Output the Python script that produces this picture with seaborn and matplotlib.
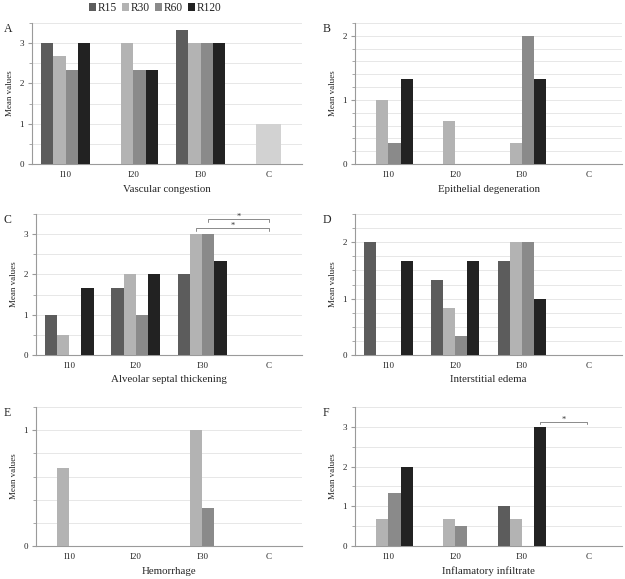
import pandas as pd
import numpy as np
import matplotlib
matplotlib.use('Agg')
import matplotlib.pyplot as plt
from matplotlib.patches import Patch
from matplotlib.ticker import MultipleLocator
import seaborn as sns

groups = ['I10', 'I20', 'I30', 'C']
series = ['R15', 'R30', 'R60', 'R120']
colors = ['#5c5c5c', '#b3b3b3', '#8a8a8a', '#222222']
control_color = '#d2d2d2'

# values per series (R15, R30, R60, R120), one entry per group
vascular = [[3, 0, 3.33, 0], [2.67, 3, 3, 0], [2.33, 2.33, 3, 0], [3, 2.33, 3, 0]]
epithelial = [[0, 0, 0, 0], [1, 0.67, 0.33, 0], [0.33, 0, 2, 0], [1.33, 0, 1.33, 0]]
septal = [[1, 1.67, 2, 0], [0.5, 2, 3, 0], [0, 1, 3, 0], [1.67, 2, 2.33, 0]]
edema = [[2, 1.33, 1.67, 0], [0, 0.83, 2, 0], [0, 0.33, 2, 0], [1.67, 1.67, 1, 0]]
hemorrhage = [[0, 0, 0, 0], [0.67, 0, 1, 0], [0, 0, 0.33, 0], [0, 0, 0, 0]]
infiltrate = [[0, 0, 1, 0], [0.67, 0.67, 0.67, 0], [1.33, 0.5, 0, 0], [2, 0, 3, 0]]
# control group bar (drawn centred on "C")
control = [1, 0, 0, 0, 0, 0]

panels = [
    ('A', 'Vascular congestion', vascular, 3.5, 0.5, [32, 302, 23, 164]),
    ('B', 'Epithelial degeneration', epithelial, 2.2, 0.2, [355, 622, 23, 164]),
    ('C', 'Alveolar septal thickening', septal, 3.5, 0.5, [36, 302, 214, 355]),
    ('D', 'Interstitial edema', edema, 2.5, 0.25, [355, 622, 214, 355]),
    ('E', 'Hemorrhage', hemorrhage, 1.2, 0.2, [36, 302, 407, 546]),
    ('F', 'Inflamatory infiltrate', infiltrate, 3.5, 0.5, [355, 622, 407, 546]),
]
# significance brackets: panel -> (x1, x2, y)
brackets = {'C': [(1.91, 3.0, 3.16), (2.09, 3.0, 3.38)], 'F': [(2.27, 2.97, 3.13)]}

sns.set_style('white')
plt.rcParams['font.family'] = ['Liberation Serif', 'DejaVu Serif']

W, H = 625, 579
fig = plt.figure(figsize=(W / 100, H / 100), dpi=100)
grid_c = '#e3e3e3'
spine_c = '#9a9a9a'

for i, (letter, title, vals, ymax, minor, box) in enumerate(panels):
    l, r, t, b = box
    ax = fig.add_axes([l / W, 1 - b / H, (r - l) / W, (b - t) / H])
    df = pd.DataFrame([(g, s, vals[j][k]) for j, s in enumerate(series)
                       for k, g in enumerate(groups)],
                      columns=['group', 'series', 'value'])
    sns.barplot(data=df, x='group', y='value', hue='series', order=groups,
                hue_order=series, palette=colors, width=0.73, saturation=1,
                errorbar=None, linewidth=0, legend=False, ax=ax, zorder=3)
    if control[i] > 0:
        ax.bar(3, control[i], width=0.365, color=control_color, linewidth=0, zorder=3)
    ax.set_xlim(-0.5, 3.5)
    ax.set_ylim(0, ymax)
    ax.yaxis.set_major_locator(MultipleLocator(1))
    ax.yaxis.set_minor_locator(MultipleLocator(minor))
    ax.grid(True, which='both', axis='y', color=grid_c, lw=0.6, zorder=0)
    ax.set_axisbelow(True)
    for s in ['top', 'right']:
        ax.spines[s].set_visible(False)
    for s in ['left', 'bottom']:
        ax.spines[s].set_color(spine_c)
        ax.spines[s].set_linewidth(0.8)
    ax.tick_params(axis='y', which='major', length=3, color=spine_c, labelsize=6.5, pad=3, left=True)
    ax.tick_params(axis='y', which='minor', length=2, color=spine_c, left=True)
    ax.tick_params(axis='x', length=0, labelsize=6.5, pad=5)
    ax.set_xlabel(title, fontsize=7.8, labelpad=4)
    ax.set_ylabel('Mean values', fontsize=6.5, labelpad=4)
    fx = 4 if l < 100 else 323
    fig.text(fx / W, 1 - (t + 6) / H, letter, fontsize=8.5, ha='left', va='center')
    for x1, x2, y in brackets.get(letter, []):
        d = ymax * 0.02
        ax.plot([x1, x1, x2, x2], [y - d, y, y, y - d], color='#8a8a8a', lw=0.7,
                zorder=4, clip_on=False)
        ax.text((x1 + x2) / 2, y + d * 0.6, '*', ha='center', va='center',
                fontsize=6, color='#333333')

handles = [Patch(facecolor=c, edgecolor='none') for c in colors]
fig.legend(handles, series, loc='center', bbox_to_anchor=(155 / W, 1 - 8 / H),
           ncol=4, frameon=False, fontsize=8.3, handlelength=0.6, handleheight=0.6,
           handletextpad=0.15, columnspacing=0.45)

fig.savefig('out.png', dpi=100, facecolor='white')
